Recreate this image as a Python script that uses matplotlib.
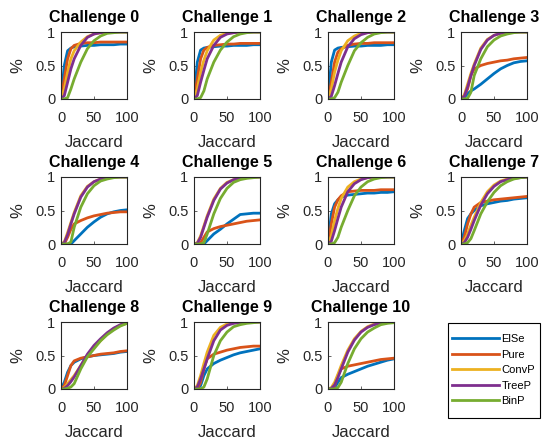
import numpy as np
import matplotlib
matplotlib.use('Agg')
import matplotlib.pyplot as plt
from matplotlib.patches import Rectangle

plt.rcParams['font.family'] = ['Liberation Sans', 'DejaVu Sans']

# Jaccard thresholds where the curves were read
jaccard = [0, 5, 10, 15, 20, 30, 40, 50, 60, 70, 80, 90, 100]

challenges = ['Challenge %d' % i for i in range(11)]
methods = ['ElSe', 'Pure', 'ConvP', 'TreeP', 'BinP']
colors = ['#0072BD', '#D95319', '#EDB120', '#7E2F8E', '#77AC30']

# one row per challenge
else_vals = [
    [0, 0.50, 0.72, 0.76, 0.78, 0.79, 0.80, 0.80, 0.81, 0.81, 0.81, 0.82, 0.82],
    [0, 0.55, 0.73, 0.76, 0.77, 0.78, 0.79, 0.79, 0.80, 0.80, 0.80, 0.81, 0.81],
    [0, 0.55, 0.73, 0.76, 0.77, 0.78, 0.79, 0.79, 0.80, 0.80, 0.80, 0.81, 0.81],
    [0, 0.02, 0.08, 0.12, 0.15, 0.22, 0.30, 0.38, 0.45, 0.50, 0.54, 0.56, 0.57],
    [0, 0.00, 0.00, 0.00, 0.05, 0.15, 0.25, 0.33, 0.40, 0.45, 0.48, 0.50, 0.51],
    [0, 0.00, 0.00, 0.00, 0.05, 0.15, 0.22, 0.30, 0.37, 0.44, 0.45, 0.46, 0.46],
    [0, 0.45, 0.60, 0.66, 0.70, 0.73, 0.74, 0.75, 0.76, 0.76, 0.77, 0.77, 0.78],
    [0, 0.20, 0.38, 0.45, 0.50, 0.57, 0.60, 0.62, 0.64, 0.65, 0.67, 0.68, 0.69],
    [0, 0.10, 0.25, 0.35, 0.40, 0.45, 0.48, 0.50, 0.51, 0.52, 0.53, 0.55, 0.56],
    [0, 0.00, 0.05, 0.20, 0.30, 0.38, 0.43, 0.47, 0.51, 0.54, 0.56, 0.58, 0.60],
    [0, 0.00, 0.02, 0.10, 0.17, 0.22, 0.26, 0.30, 0.34, 0.37, 0.40, 0.43, 0.45],
]
pure_vals = [
    [0, 0.30, 0.60, 0.75, 0.80, 0.83, 0.84, 0.84, 0.85, 0.85, 0.85, 0.85, 0.85],
    [0, 0.30, 0.60, 0.73, 0.77, 0.80, 0.81, 0.82, 0.82, 0.83, 0.83, 0.83, 0.83],
    [0, 0.25, 0.55, 0.70, 0.75, 0.80, 0.82, 0.83, 0.83, 0.84, 0.84, 0.84, 0.84],
    [0, 0.05, 0.15, 0.35, 0.45, 0.50, 0.53, 0.55, 0.57, 0.58, 0.60, 0.61, 0.62],
    [0, 0.00, 0.10, 0.22, 0.30, 0.35, 0.39, 0.42, 0.44, 0.46, 0.47, 0.48, 0.48],
    [0, 0.00, 0.02, 0.10, 0.18, 0.23, 0.26, 0.28, 0.30, 0.32, 0.34, 0.35, 0.36],
    [0, 0.30, 0.55, 0.66, 0.72, 0.78, 0.79, 0.80, 0.80, 0.80, 0.81, 0.81, 0.81],
    [0, 0.10, 0.30, 0.45, 0.55, 0.62, 0.64, 0.66, 0.67, 0.68, 0.69, 0.70, 0.71],
    [0, 0.05, 0.20, 0.35, 0.42, 0.46, 0.48, 0.50, 0.52, 0.53, 0.54, 0.56, 0.57],
    [0, 0.00, 0.10, 0.30, 0.45, 0.52, 0.55, 0.58, 0.60, 0.62, 0.63, 0.64, 0.64],
    [0, 0.00, 0.05, 0.20, 0.30, 0.34, 0.36, 0.38, 0.40, 0.42, 0.44, 0.45, 0.46],
]
convp_vals = [
    [0, 0.15, 0.40, 0.60, 0.72, 0.85, 0.93, 0.97, 0.99, 1.00, 1.00, 1.00, 1.00],
    [0, 0.15, 0.40, 0.58, 0.72, 0.88, 0.95, 0.98, 0.99, 1.00, 1.00, 1.00, 1.00],
    [0, 0.15, 0.40, 0.58, 0.72, 0.87, 0.94, 0.98, 0.99, 1.00, 1.00, 1.00, 1.00],
    [0, 0.06, 0.22, 0.38, 0.52, 0.76, 0.89, 0.95, 0.98, 0.99, 1.00, 1.00, 1.00],
    [0, 0.03, 0.17, 0.32, 0.47, 0.72, 0.86, 0.93, 0.97, 0.99, 1.00, 1.00, 1.00],
    [0, 0.02, 0.12, 0.27, 0.42, 0.67, 0.83, 0.92, 0.96, 0.98, 0.99, 1.00, 1.00],
    [0, 0.12, 0.35, 0.53, 0.68, 0.85, 0.93, 0.97, 0.99, 1.00, 1.00, 1.00, 1.00],
    [0, 0.05, 0.15, 0.28, 0.40, 0.62, 0.78, 0.88, 0.94, 0.97, 0.99, 1.00, 1.00],
    [0, 0.02, 0.08, 0.14, 0.20, 0.35, 0.50, 0.62, 0.72, 0.82, 0.90, 0.95, 0.98],
    [0, 0.05, 0.20, 0.38, 0.55, 0.80, 0.92, 0.97, 0.99, 1.00, 1.00, 1.00, 1.00],
    [0, 0.02, 0.10, 0.22, 0.35, 0.58, 0.75, 0.86, 0.93, 0.97, 0.99, 1.00, 1.00],
]
treep_vals = [
    [0, 0.05, 0.25, 0.45, 0.60, 0.80, 0.92, 0.97, 0.99, 1.00, 1.00, 1.00, 1.00],
    [0, 0.05, 0.25, 0.43, 0.60, 0.80, 0.92, 0.97, 0.99, 1.00, 1.00, 1.00, 1.00],
    [0, 0.04, 0.20, 0.38, 0.55, 0.78, 0.90, 0.96, 0.99, 1.00, 1.00, 1.00, 1.00],
    [0, 0.04, 0.18, 0.35, 0.50, 0.74, 0.88, 0.95, 0.98, 0.99, 1.00, 1.00, 1.00],
    [0, 0.02, 0.14, 0.30, 0.45, 0.70, 0.85, 0.93, 0.97, 0.99, 1.00, 1.00, 1.00],
    [0, 0.01, 0.10, 0.25, 0.40, 0.65, 0.82, 0.91, 0.96, 0.98, 0.99, 1.00, 1.00],
    [0, 0.04, 0.20, 0.38, 0.55, 0.78, 0.90, 0.96, 0.99, 1.00, 1.00, 1.00, 1.00],
    [0, 0.02, 0.10, 0.22, 0.35, 0.58, 0.75, 0.86, 0.93, 0.96, 0.98, 0.99, 1.00],
    [0, 0.01, 0.05, 0.11, 0.18, 0.35, 0.52, 0.65, 0.75, 0.84, 0.91, 0.96, 1.00],
    [0, 0.03, 0.15, 0.30, 0.45, 0.72, 0.88, 0.95, 0.98, 0.99, 1.00, 1.00, 1.00],
    [0, 0.01, 0.06, 0.17, 0.30, 0.55, 0.73, 0.85, 0.92, 0.96, 0.98, 0.99, 1.00],
]
binp_vals = [
    [0, 0.00, 0.02, 0.15, 0.30, 0.55, 0.75, 0.87, 0.94, 0.98, 0.99, 1.00, 1.00],
    [0, 0.00, 0.02, 0.12, 0.30, 0.55, 0.73, 0.85, 0.93, 0.97, 0.99, 1.00, 1.00],
    [0, 0.00, 0.02, 0.10, 0.25, 0.50, 0.72, 0.84, 0.92, 0.97, 0.99, 1.00, 1.00],
    [0, 0.00, 0.01, 0.10, 0.35, 0.60, 0.78, 0.88, 0.94, 0.97, 0.99, 1.00, 1.00],
    [0, 0.00, 0.00, 0.03, 0.25, 0.55, 0.75, 0.87, 0.94, 0.97, 0.99, 1.00, 1.00],
    [0, 0.00, 0.00, 0.02, 0.15, 0.45, 0.68, 0.83, 0.92, 0.96, 0.98, 0.99, 1.00],
    [0, 0.00, 0.02, 0.10, 0.25, 0.50, 0.72, 0.85, 0.93, 0.97, 0.99, 1.00, 1.00],
    [0, 0.00, 0.02, 0.08, 0.20, 0.45, 0.63, 0.77, 0.87, 0.93, 0.97, 0.99, 1.00],
    [0, 0.00, 0.01, 0.03, 0.08, 0.30, 0.48, 0.60, 0.72, 0.81, 0.88, 0.94, 0.98],
    [0, 0.00, 0.00, 0.03, 0.15, 0.50, 0.72, 0.85, 0.93, 0.96, 0.98, 0.99, 1.00],
    [0, 0.00, 0.00, 0.02, 0.10, 0.38, 0.60, 0.75, 0.85, 0.91, 0.96, 0.98, 0.99],
]
all_vals = [else_vals, pure_vals, convp_vals, treep_vals, binp_vals]

W, H = 547, 443
fig = plt.figure(figsize=(W / 100, H / 100), dpi=100)

col_left = [61, 194, 328, 461]
row_top = [32, 177, 322]
ax_w, ax_h = 66, 67
axis_col = '#262626'

for i, name in enumerate(challenges):
    r, c = divmod(i, 4)
    ax = fig.add_axes([col_left[c] / W, 1 - (row_top[r] + ax_h) / H, ax_w / W, ax_h / H])
    lines = []
    for m in range(len(methods)):
        ln, = ax.plot(jaccard, all_vals[m][i], color=colors[m], linewidth=2,
                      label=methods[m], solid_joinstyle='round')
        lines.append(ln)
    ax.set_xlim(0, 100)
    ax.set_ylim(0, 1)
    ax.set_xticks([0, 50, 100])
    ax.set_yticks([0, 0.5, 1])
    ax.set_yticklabels(['0', '0.5', '1'])
    ax.tick_params(direction='in', length=2, width=0.5, labelsize=10.5,
                   colors=axis_col)
    ax.tick_params(axis='x', pad=8.5)
    ax.tick_params(axis='y', pad=4)
    for s in ax.spines.values():
        s.set_color(axis_col)
        s.set_linewidth(0.8)
    ax.set_title(name, fontsize=11.5, fontweight='bold', pad=7.5)
    ax.set_xlabel('Jaccard', fontsize=12, color=axis_col, labelpad=7)
    ax.set_ylabel('%', fontsize=12, color=axis_col, labelpad=7)

# legend in the empty 12th slot, with a plain square frame
fig.patches.append(Rectangle((448 / W, 1 - 418 / H), 92 / W, 95 / H,
                             transform=fig.transFigure, fill=False,
                             edgecolor='black', linewidth=0.8))
fig.legend(handles=lines, loc='upper left',
           bbox_to_anchor=(452 / W, 1 - 334 / H), fontsize=8,
           frameon=False, handlelength=4.2, handletextpad=0.25,
           borderpad=0, labelspacing=0.5, borderaxespad=0)

fig.savefig('out.png', dpi=100)
